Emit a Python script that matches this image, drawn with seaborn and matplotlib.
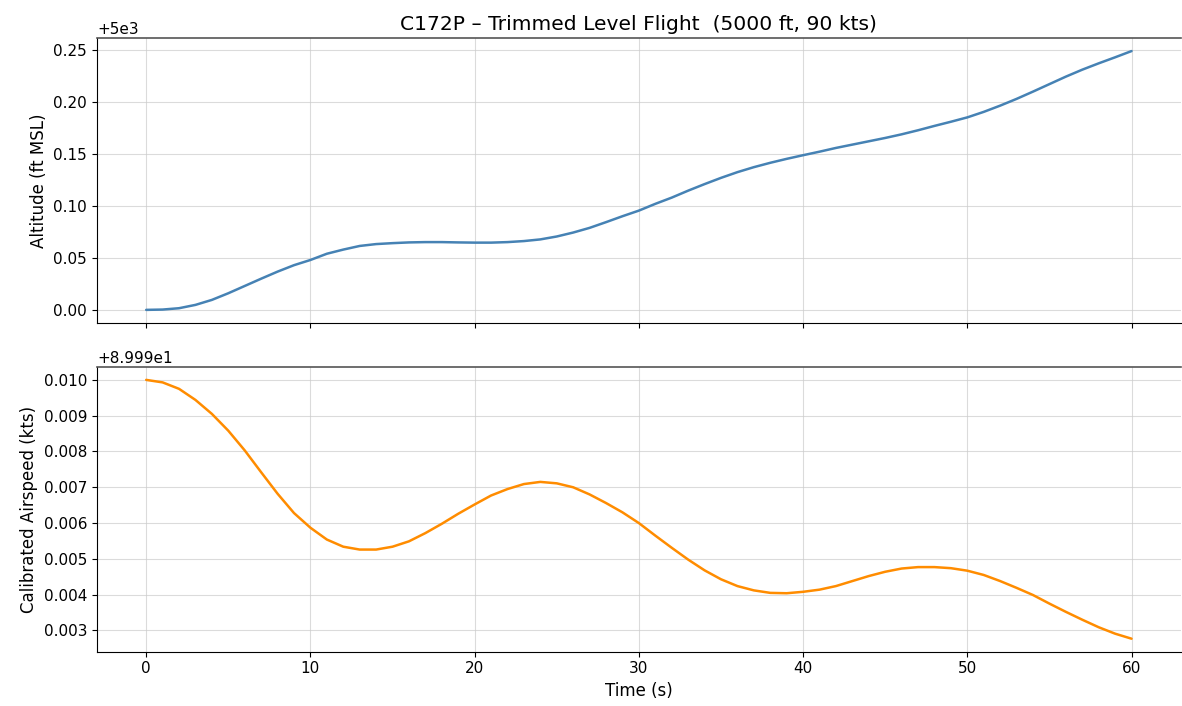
import matplotlib
matplotlib.use("Agg")
import matplotlib.pyplot as plt
import seaborn as sns

time_s = list(range(0, 61))
altitude_ft = [
    5000.0000, 5000.0003, 5000.0016, 5000.0048, 5000.0096, 5000.0160, 5000.0230, 5000.0300,
    5000.0368, 5000.0430, 5000.0480, 5000.0540, 5000.0580, 5000.0615, 5000.0633, 5000.0642,
    5000.0649, 5000.0652, 5000.0652, 5000.0649, 5000.0647, 5000.0647, 5000.0652, 5000.0662,
    5000.0678, 5000.0706, 5000.0744, 5000.0789, 5000.0844, 5000.0901, 5000.0955, 5000.1020,
    5000.1080, 5000.1147, 5000.1210, 5000.1270, 5000.1325, 5000.1373, 5000.1415, 5000.1453,
    5000.1488, 5000.1522, 5000.1558, 5000.1590, 5000.1622, 5000.1654, 5000.1689, 5000.1728,
    5000.1770, 5000.1810, 5000.1852, 5000.1905, 5000.1965, 5000.2030, 5000.2100, 5000.2172,
    5000.2244, 5000.2311, 5000.2372, 5000.2430, 5000.2490]
airspeed_kts = [
    90.00000, 89.99993, 89.99975, 89.99944, 89.99905, 89.99858, 89.99803, 89.99742,
    89.99682, 89.99628, 89.99587, 89.99554, 89.99534, 89.99526, 89.99526, 89.99534,
    89.99549, 89.99572, 89.99598, 89.99626, 89.99652, 89.99677, 89.99695, 89.99709,
    89.99715, 89.99711, 89.99700, 89.99680, 89.99656, 89.99630, 89.99600, 89.99565,
    89.99531, 89.99498, 89.99468, 89.99443, 89.99424, 89.99412, 89.99405, 89.99404,
    89.99408, 89.99414, 89.99424, 89.99438, 89.99452, 89.99464, 89.99473, 89.99477,
    89.99477, 89.99474, 89.99467, 89.99455, 89.99438, 89.99419, 89.99399, 89.99375,
    89.99352, 89.99330, 89.99309, 89.99291, 89.99277]

sns.set_style("ticks")
plt.rcParams['font.family'] = ['DejaVu Sans']
for k in ('text.color', 'axes.labelcolor', 'xtick.color', 'ytick.color'):
    plt.rcParams[k] = 'black'

fig, (ax1, ax2) = plt.subplots(2, 1, figsize=(11.82, 7.06), dpi=100, sharex=True)
fig.subplots_adjust(left=0.082, right=0.999, top=0.946, bottom=0.077, hspace=0.155)

sns.lineplot(x=time_s, y=altitude_ft, ax=ax1, color="#4682b4", linewidth=1.8)
sns.lineplot(x=time_s, y=airspeed_kts, ax=ax2, color="#ff8c00", linewidth=1.8)

ax1.set_ylabel("Altitude (ft MSL)", fontsize=12)
ax2.set_ylabel("Calibrated Airspeed (kts)", fontsize=12)
ax2.set_xlabel("Time (s)", fontsize=12)
ax1.set_title("C172P \u2013 Trimmed Level Flight  (5000 ft, 90 kts)", fontsize=14.6)

ax1.ticklabel_format(axis='y', useOffset=5000)
ax2.ticklabel_format(axis='y', useOffset=89.99)

for ax in (ax1, ax2):
    ax.grid(True, color="#cccccc", alpha=0.7, linewidth=0.8)
    ax.tick_params(labelsize=11)
    ax.yaxis.get_offset_text().set_fontsize(11)
    ax.spines['right'].set_visible(False)
    ax.spines['top'].set_color('#555555')
    ax.spines['top'].set_linewidth(1.2)
    ax.spines['left'].set_color('black')
    ax.spines['bottom'].set_color('black')
ax2.set_xticks([0, 10, 20, 30, 40, 50, 60])
ax2.set_xlim(-3, 63)

fig.savefig("out.png", dpi=100)
